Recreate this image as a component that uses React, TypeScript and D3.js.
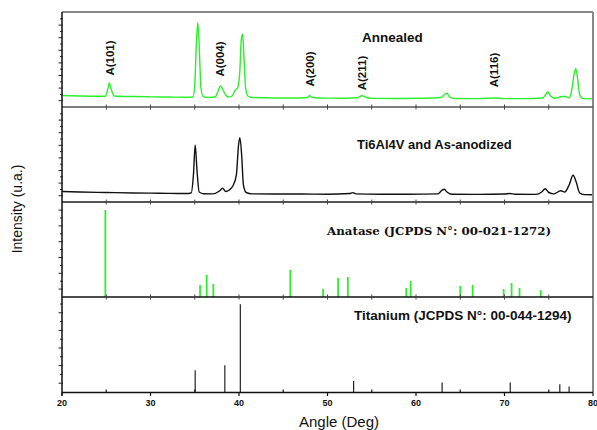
import React from "react";
import * as d3 from "d3";

const W = 597;
const H = 430;

const xTicks = [20, 30, 40, 50, 60, 70, 80];
const xMinorTicks = [25, 35, 45, 55, 65, 75];

// Annealed trace (angle, intensity %)
const annealedAngle = [20, 22, 24, 24.9, 25.15, 25.35, 25.55, 25.9, 28, 30, 32, 34, 34.8, 35.0, 35.2, 35.35, 35.5, 35.7, 35.95, 36.5, 37.3, 37.6, 37.9, 38.2, 38.5, 38.8, 39.2, 39.6, 39.85, 40.1, 40.25, 40.4, 40.55, 40.75, 41.0, 41.5, 43, 45, 47, 47.7, 48.0, 48.3, 50, 52, 53.3, 53.9, 54.4, 55, 58, 61, 62.8, 63.3, 63.5, 63.8, 64.4, 67, 68.9, 70, 72, 74.3, 74.7, 74.9, 75.2, 75.7, 76.5, 76.9, 77.3, 77.6, 77.85, 78.05, 78.25, 78.5, 78.9, 80];
const annealedValue = [12.1, 11.6, 11.3, 11.3, 17.9, 25.3, 18.9, 11.6, 11, 10.7, 10.5, 10.2, 10.5, 23.2, 70.5, 88.7, 65.3, 20, 11, 10, 10.5, 15.8, 22.1, 17.9, 12.6, 10.5, 11.6, 17.9, 20.3, 38.9, 70.5, 76.8, 54.7, 20, 11.6, 10, 9.7, 9.5, 9.5, 10, 11.8, 10, 9.3, 9.2, 9.7, 11.9, 10, 9.1, 9, 9.2, 10, 13.7, 14.4, 10.5, 9, 8.8, 9.5, 8.8, 8.8, 9.5, 13.7, 16.1, 11.6, 9.2, 11, 11, 9.5, 17.9, 33.7, 40.7, 30.5, 12.6, 8.8, 8.6];

// Ti6Al4V and As-anodized trace
const anodizedAngle = [20, 22, 25, 28, 31, 34, 34.6, 34.85, 35.05, 35.25, 35.5, 36, 37, 37.8, 38.15, 38.5, 38.9, 39.3, 39.7, 39.95, 40.1, 40.3, 40.5, 40.8, 41.5, 44, 47, 50, 52.5, 52.85, 53.2, 56, 59, 62.5, 62.9, 63.2, 63.5, 64, 67, 70, 70.6, 71.2, 73.5, 74.2, 74.6, 75, 75.6, 76.35, 76.8, 77.3, 77.75, 78.1, 78.5, 79, 80];
const anodizedValue = [11.1, 10.5, 10, 9.5, 9.2, 8.9, 9.5, 28.4, 60, 33.7, 10.5, 8.7, 8.6, 11.6, 14.4, 11.1, 12.6, 16.8, 28.4, 60, 67.7, 49.5, 17.9, 10, 8.6, 8.4, 8.4, 8.2, 8.9, 9.9, 8.6, 8.2, 8.1, 8.6, 12.1, 13.4, 10.5, 8.1, 8, 8.4, 8.9, 8.2, 8, 10.5, 14, 10, 8.6, 11.9, 10.5, 17.9, 28.1, 21, 9.5, 7.8, 7.6];

// Anatase reference pattern (sticks)
const anataseAngle = [24.9, 35.6, 36.35, 37.1, 45.8, 49.5, 51.2, 52.3, 58.9, 59.4, 65.0, 66.4, 69.9, 70.8, 71.7, 74.1];
const anataseValue = [91.6, 12.6, 23.2, 13.7, 28.4, 8.4, 20, 21, 9.5, 16.8, 11.6, 12.6, 8.4, 14.7, 9.5, 7.4];

// Titanium reference pattern (sticks)
const titaniumAngle = [35.05, 38.4, 40.15, 52.95, 62.95, 70.65, 76.25, 77.3];
const titaniumValue = [22.8, 28.1, 92.3, 11.6, 9.9, 9.9, 8.1, 5.7];

// Peak labels on annealed panel
const peakLabels = ["A(101)", "A(004)", "A(200)", "A(211)", "A(116)"];
const peakLabelAngle = [25.4, 37.9, 48.0, 53.9, 68.8];

const panelTitles = ["Annealed", "Ti6Al4V and As-anodized", "Anatase (JCPDS N°: 00-021-1272)", "Titanium (JCPDS N°: 00-044-1294)"];

const GREEN = "#2bef2b";
const SANS = "Arial, 'Liberation Sans', Helvetica, sans-serif";

export default function App() {
  const left = 62;
  const right = 593;
  const tops = [12, 107, 202, 297];
  const bottom = 392.5;
  const ph = 95;

  const x = d3.scaleLinear().domain([20, 80]).range([left, right]);
  const yFor = (i: number) =>
    d3.scaleLinear().domain([0, 100]).range([tops[i] + ph, tops[i]]);

  const y0 = yFor(0);
  const y1 = yFor(1);
  const y2 = yFor(2);
  const y3 = yFor(3);

  const line0 = d3
    .line<number>()
    .x((_, k) => x(annealedAngle[k]))
    .y((v) => y0(v))
    .curve(d3.curveMonotoneX);
  const line1 = d3
    .line<number>()
    .x((_, k) => x(anodizedAngle[k]))
    .y((v) => y1(v))
    .curve(d3.curveMonotoneX);

  const tickSpacing = [6.3, 6.3, 7.9, 8.8];
  const leftTicks: JSX.Element[] = [];
  tops.forEach((t, i) => {
    const b = t + ph;
    const n = Math.floor(ph / tickSpacing[i]);
    for (let k = 1; k <= n; k++) {
      const yy = b - k * tickSpacing[i];
      if (yy < t + 2) break;
      const long = k % 2 === 1;
      leftTicks.push(
        <line
          key={`lt${i}-${k}`}
          x1={left - (long ? 3.5 : 2)}
          x2={left + 1}
          y1={yy}
          y2={yy}
          stroke="#222"
          strokeWidth={1}
        />
      );
    }
  });

  const dividerTicks: JSX.Element[] = [];
  [tops[1], tops[2], tops[3]].forEach((yy, i) => {
    [...xTicks, ...xMinorTicks].forEach((t) => {
      if (t === 20 || t === 80) return;
      dividerTicks.push(
        <line
          key={`dt${i}-${t}`}
          x1={x(t)}
          x2={x(t)}
          y1={yy - 2.5}
          y2={yy + 2.5}
          stroke="#444"
          strokeWidth={1}
        />
      );
    });
  });

  return (
    <div style={{ position: "absolute", left: 0, top: 0 }}>
      <svg width={W} height={H} style={{ display: "block", background: "#fff" }}>
        {/* traces */}
        <path d={line0(annealedValue) || ""} fill="none" stroke={GREEN} strokeWidth={1.4} />
        <path d={line1(anodizedValue) || ""} fill="none" stroke="#111" strokeWidth={1.4} />

        {/* anatase sticks */}
        {anataseAngle.map((a, k) => (
          <line
            key={`an${k}`}
            x1={x(a)}
            x2={x(a)}
            y1={y2(0)}
            y2={y2(anataseValue[k])}
            stroke={GREEN}
            strokeWidth={1.8}
          />
        ))}
        {/* titanium sticks */}
        {titaniumAngle.map((a, k) => (
          <line
            key={`ti${k}`}
            x1={x(a)}
            x2={x(a)}
            y1={y3(0)}
            y2={y3(titaniumValue[k])}
            stroke="#222"
            strokeWidth={1.2}
          />
        ))}

        {/* frame */}
        <line x1={left} x2={right} y1={tops[0]} y2={tops[0]} stroke="#888" strokeWidth={2} />
        <line x1={right} x2={right} y1={tops[0]} y2={bottom} stroke="#888" strokeWidth={2} />
        <line x1={left} x2={right} y1={tops[1]} y2={tops[1]} stroke="#555" strokeWidth={1.5} />
        <line x1={left} x2={right} y1={tops[2]} y2={tops[2]} stroke="#555" strokeWidth={2} />
        <line x1={left} x2={right} y1={tops[3]} y2={tops[3]} stroke="#111" strokeWidth={1.5} />
        <line x1={left} x2={right} y1={bottom} y2={bottom} stroke="#111" strokeWidth={1.5} />
        <line x1={left} x2={left} y1={tops[0]} y2={bottom + 3} stroke="#111" strokeWidth={1.5} />
        {leftTicks}
        {dividerTicks}

        {/* bottom axis ticks */}
        {xTicks.map((t) => (
          <line key={`bt${t}`} x1={x(t)} x2={x(t)} y1={bottom} y2={bottom + 3.5} stroke="#111" strokeWidth={1.2} />
        ))}
        {xMinorTicks.map((t) => (
          <line key={`bm${t}`} x1={x(t)} x2={x(t)} y1={bottom - 3} y2={bottom} stroke="#111" strokeWidth={1.2} />
        ))}
        {xTicks.map((t) => (
          <text
            key={`bl${t}`}
            x={x(t)}
            y={405.5}
            textAnchor="middle"
            fontFamily={SANS}
            fontWeight="bold"
            fontSize={9}
            fill="#111"
          >
            {t}
          </text>
        ))}

        {/* peak labels */}
        {peakLabels.map((l, k) => {
          const ys = [58, 59, 69, 73, 70];
          return (
            <text
              key={`pl${k}`}
              transform={`translate(${x(peakLabelAngle[k]) + 4},${ys[k]}) rotate(-90)`}
              textAnchor="middle"
              fontFamily={SANS}
              fontWeight="bold"
              fontSize={11.5}
              fill="#111"
            >
              {l}
            </text>
          );
        })}

        {/* panel titles */}
        <text x={362} y={42} fontFamily={SANS} fontWeight="bold" fontSize={13.5} fill="#111">
          {panelTitles[0]}
        </text>
        <text x={357} y={149} fontFamily={SANS} fontWeight="bold" fontSize={13} fill="#111">
          {panelTitles[1]}
        </text>
        <text
          x={327}
          y={234.5}
          fontFamily="'DejaVu Serif', 'Liberation Serif', serif"
          fontWeight="bold"
          fontSize={11.5}
          textLength={224}
          lengthAdjust="spacingAndGlyphs"
          fill="#111"
        >
          {panelTitles[2]}
        </text>
        <text x={354} y={319.5} fontFamily={SANS} fontWeight="bold" fontSize={13.5} fill="#111">
          {panelTitles[3]}
        </text>

        {/* axis titles */}
        <text x={339} y={426.5} textAnchor="middle" fontFamily={SANS} fontSize={15} fill="#111">
          Angle (Deg)
        </text>
        <text
          transform="translate(22,209) rotate(-90)"
          textAnchor="middle"
          fontFamily={SANS}
          fontSize={14}
          fill="#111"
        >
          Intensity (u.a.)
        </text>
      </svg>
    </div>
  );
}
